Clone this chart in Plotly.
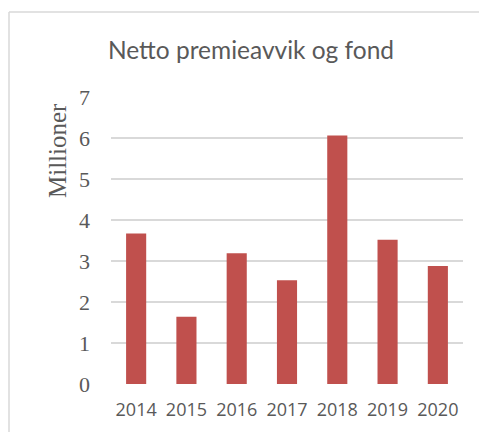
import plotly.graph_objects as go

years = ["2014", "2015", "2016", "2017", "2018", "2019", "2020"]
values = [3.67, 1.64, 3.19, 2.53, 6.06, 3.52, 2.88]
y_ticks = [0, 1, 2, 3, 4, 5, 6, 7]
title_text = "Netto premieavvik og fond"
y_title = "Millioner"

W, H = 479, 432
L, R, T, B = 111, 16, 97, 48
pw, ph = W - L - R, H - T - B

def px(x):
    return (x - L) / pw

def py(y):
    return (H - B - y) / ph

fig = go.Figure(go.Bar(x=years, y=values, marker=dict(color="#C0504D", line=dict(width=0))))

fig.update_layout(
    width=W, height=H,
    margin=dict(l=L, r=R, t=T, b=B, autoexpand=False),
    paper_bgcolor="white", plot_bgcolor="white",
    bargap=0.6,
    showlegend=False,
    title=dict(text=title_text, x=251 / W, xanchor="center", y=1 - 50 / H, yanchor="middle",
               font=dict(family="Lato, Open Sans, sans-serif", size=24.5, color="#595959")),
    xaxis=dict(showgrid=False, showline=False, ticks="", zeroline=False, ticklabelstandoff=13,
               tickfont=dict(family="Open Sans, sans-serif", size=18, color="#595959")),
    yaxis=dict(range=[0, 7], tickvals=y_ticks, showgrid=True, gridcolor="#D9D9D9", gridwidth=1.5,
               zeroline=False, showline=False, ticks="", ticklabelstandoff=20,
               tickfont=dict(family="Liberation Serif, Times New Roman, serif", size=22, color="#595959")),
    annotations=[
        dict(text=y_title, xref="paper", yref="paper", x=px(57), y=py(151), textangle=-90,
             showarrow=False, xanchor="center", yanchor="middle",
             font=dict(family="Liberation Serif, Times New Roman, serif", size=25, color="#595959")),
    ],
    shapes=[
        dict(type="line", xref="paper", yref="paper", x0=px(9), x1=px(490), y0=py(12), y1=py(12),
             line=dict(color="#D9D9D9", width=1.5)),
        dict(type="line", xref="paper", yref="paper", x0=px(9), x1=px(9), y0=py(12), y1=py(440),
             line=dict(color="#D9D9D9", width=1.5)),
    ],
)

fig.write_html("out.html", config={"displayModeBar": False},
               post_script="document.body.style.margin='0';document.body.style.overflow='hidden';")
